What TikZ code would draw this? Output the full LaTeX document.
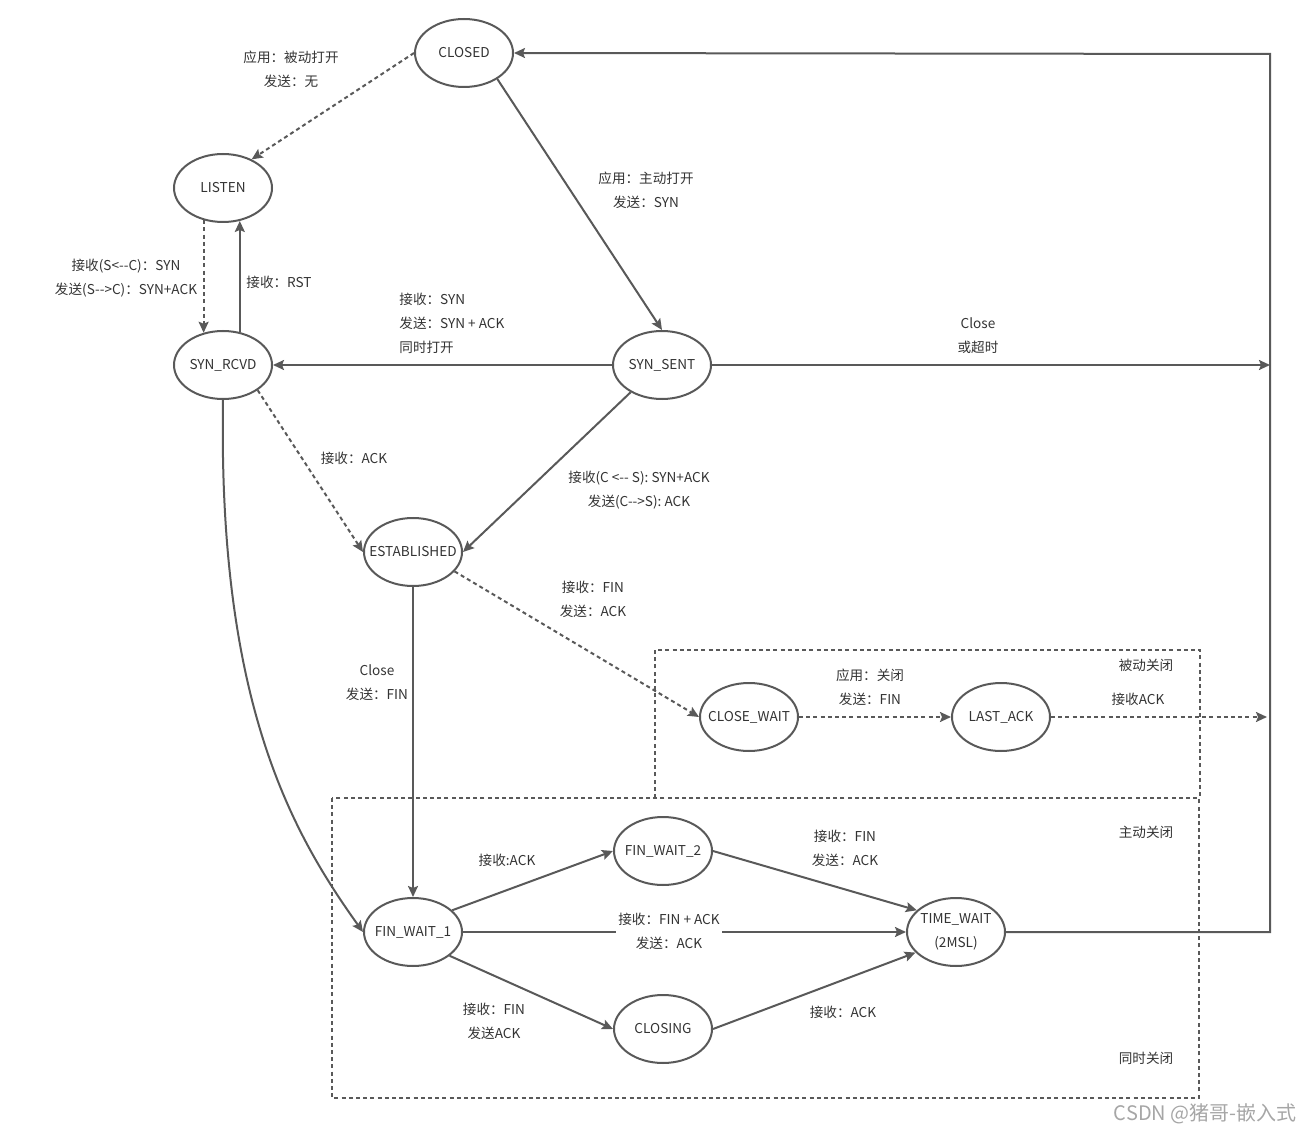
\documentclass[tikz,border=0pt]{standalone}
\usepackage{fontspec}
\setmainfont{Noto Sans CJK SC}
\usetikzlibrary{shapes.geometric,arrows.meta,calc}
\definecolor{ln}{HTML}{595959}
\definecolor{tx}{HTML}{333333}
\begin{document}
\begin{tikzpicture}[x=0.5pt,y=-0.5pt,
  font=\fontsize{6.8}{12}\selectfont,
  state/.style={ellipse,draw=ln,line width=1pt,minimum width=49pt,minimum height=34pt,inner sep=0pt,
    label={[text=tx,align=center,inner sep=0pt]center:#1}},
  lbl/.style={text=tx,align=center,inner sep=1pt},
  conn/.style={draw=ln,line width=1pt,-{Stealth[length=5.5pt,width=5pt,inset=1pt]}},
  dsh/.style={conn,dash pattern=on 2pt off 1.6pt},
  grp/.style={draw=ln,line width=0.8pt,dash pattern=on 2pt off 1.6pt}]
\useasboundingbox (0,0) rectangle (1313,1134);
% group boxes
\draw[grp] (655,798) -- (655,650) -- (1200,650) -- (1200,798);
\draw[grp] (332,798) rectangle (1199,1098);
% states
\node[state=CLOSED] (CLOSED) at (464,53) {};
\node[state=LISTEN] (LISTEN) at (223,188) {};
\node[state=SYN\_RCVD] (SYNRCVD) at (223,365) {};
\node[state=SYN\_SENT] (SYNSENT) at (662,365) {};
\node[state=ESTABLISHED] (EST) at (413,552) {};
\node[state=CLOSE\_WAIT] (CW) at (749,717) {};
\node[state=LAST\_ACK] (LA) at (1001,717) {};
\node[state=FIN\_WAIT\_2] (FW2) at (663,851) {};
\node[state=FIN\_WAIT\_1] (FW1) at (413,932) {};
\node[state={TIME\_WAIT\\(2MSL)}] (TW) at (956,932) {};
\node[state=CLOSING] (CLOSING) at (663,1029) {};
\coordinate (R1) at (1270,365);
\coordinate (R2) at (1267,717);
\coordinate (C1) at (1270,932);
\coordinate (C2) at (1270,54);
% connectors
\draw[dsh] (CLOSED.west) -- (LISTEN.45);
\draw[conn] (CLOSED.-38) -- (SYNSENT.north);
\draw[dsh] (LISTEN.-121) -- (SYNRCVD.121);
\draw[conn] (SYNRCVD.63.5) -- (LISTEN.-63.5);
\draw[conn] (SYNSENT.west) -- (SYNRCVD.east);
\draw[conn] (SYNSENT.east) -- (R1);
\draw[conn] (SYNSENT.-139) -- (EST.east);
\draw[dsh] (SYNRCVD.-36) -- (EST.west);
\draw[dsh] (EST.-25.5) -- (CW.west);
\draw[dsh] (CW.east) -- (LA.west);
\draw[dsh] (LA.east) -- (R2);
\draw[conn] (EST.south) -- (FW1.north);
\draw[conn] (SYNRCVD.south) .. controls (218,700) and (290,830) .. (FW1.west);
\draw[conn] (FW1.29) -- (FW2.west);
\draw[conn] (FW1.east) -- (TW.west);
\draw[conn] (FW1.-33) -- (CLOSING.west);
\draw[conn] (FW2.east) -- (TW.151);
\draw[conn] (CLOSING.east) -- (TW.-153);
\draw[conn] (TW.east) -- (C1) -- (C2) -- (CLOSED.east);
% labels
\node[lbl] (l1) at (291,69) {应用：被动打开\\发送：无};
\node[lbl] (l2) at (646,190) {应用：主动打开\\发送：SYN};
\node[lbl] (l3) at (126,278) {接收(S<{-}{-}C)：SYN\\发送(S{-}{-}>C)：SYN+ACK};
\node[lbl,anchor=west] (l4) at (244,282) {接收：RST};
\node[lbl,anchor=west,align=left] (l5) at (397,323) {接收：SYN\\发送：SYN + ACK\\同时打开};
\node[lbl] (l6) at (978,336) {Close\\或超时};
\node[lbl] (l7) at (639,490) {接收(C <{-}{-} S): SYN+ACK\\发送(C{-}{-}>S): ACK};
\node[lbl] (l8) at (354,458) {接收：ACK};
\node[lbl] (l9) at (593,599) {接收：FIN\\发送：ACK};
\node[lbl] (l10) at (870,687) {应用：关闭\\发送：FIN};
\node[lbl] (l11) at (1138,699) {接收ACK};
\node[lbl] (l12) at (377,683) {Close\\发送：FIN};
\node[lbl] (l13) at (507,860) {接收:ACK};
\node[lbl,fill=white] (l14) at (669,931) {接收：FIN + ACK\\发送：ACK};
\node[lbl] (l15) at (494,1021) {接收：FIN\\发送ACK};
\node[lbl] (l16) at (845,848) {接收：FIN\\发送：ACK};
\node[lbl] (l17) at (843,1012) {接收：ACK};
\node[lbl] (g1) at (1146,665) {被动关闭};
\node[lbl] (g2) at (1146,832) {主动关闭};
\node[lbl] (g3) at (1146,1058) {同时关闭};
\node[anchor=east,text=black!35,font=\fontsize{10}{12}\selectfont,inner sep=0pt] (wm) at (1297,1114) {CSDN @猪哥-嵌入式};
\end{tikzpicture}
\end{document}
